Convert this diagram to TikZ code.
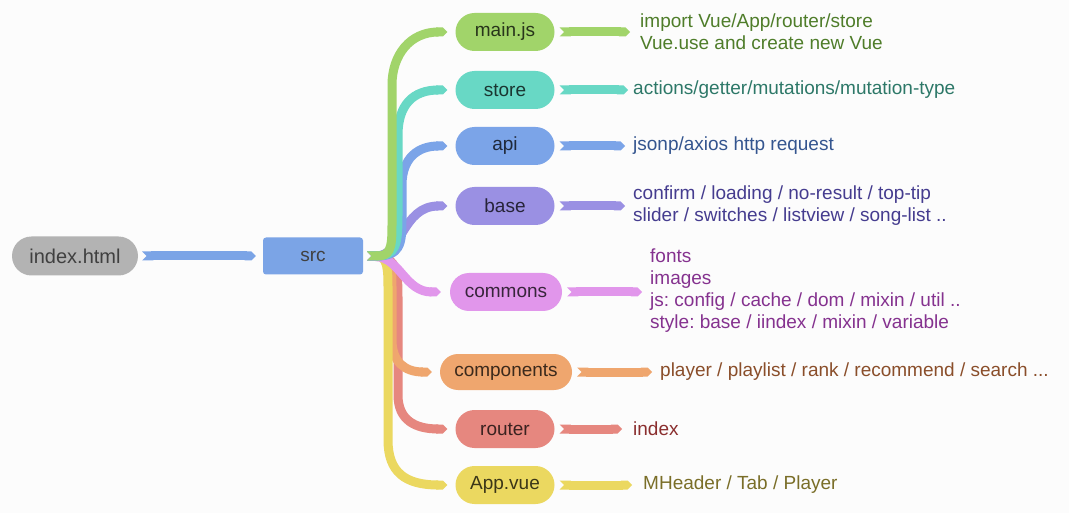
\documentclass[tikz,border=0pt]{standalone}
\usepackage{fontspec}
\setmainfont{Liberation Sans}
\frenchspacing
\usetikzlibrary{positioning, shapes.misc, arrows.meta, calc}
\definecolor{mmbg}{HTML}{FCFCFC}
\definecolor{mmgray}{HTML}{B3B3B3}
\definecolor{mmsrc}{HTML}{7BA4E6}
\definecolor{mmmain}{HTML}{A1D46A}
\definecolor{mmstore}{HTML}{68D8C5}
\definecolor{mmapi}{HTML}{7BA4E8}
\definecolor{mmbase}{HTML}{9A90E3}
\definecolor{mmcommons}{HTML}{E196EB}
\definecolor{mmcomp}{HTML}{EFA66E}
\definecolor{mmrouter}{HTML}{E6877F}
\definecolor{mmapp}{HTML}{EBD860}
\definecolor{txmain}{HTML}{4F7D2A}
\definecolor{txstore}{HTML}{2D7868}
\definecolor{txapi}{HTML}{34558F}
\definecolor{txbase}{HTML}{453C8F}
\definecolor{txcommons}{HTML}{85328F}
\definecolor{txcomp}{HTML}{8A4E2A}
\definecolor{txrouter}{HTML}{8A2E2E}
\definecolor{txapp}{HTML}{7A6E28}

\tikzset{
  pill/.style={rounded rectangle, minimum width=99pt, minimum height=38pt, inner sep=0pt,
               font=\fontsize{19}{22}\selectfont},
  note/.style={anchor=west, inner sep=0pt, align=left, font=\fontsize{19}{22}\selectfont},
  flow/.style={line width=9pt, {Triangle Cap[reversed]}-{Triangle Cap}},
}

\begin{document}
\begin{tikzpicture}[x=1pt, y=-1pt]
  \useasboundingbox[fill=mmbg] (0,0) rectangle (1069,513);

  % root and source
  \node[pill, fill=mmgray, minimum width=126pt, minimum height=39pt, text=black!75,
        font=\fontsize{20}{22}\selectfont] (index) at (75,256) {index.html};
  \node[rectangle, rounded corners=3pt, fill=mmsrc, minimum width=100pt, minimum height=37pt,
        text=black!75, font=\fontsize{19}{22}\selectfont] (src) at (313,256) {src};
  \coordinate (fan) at ([xshift=4pt]src.east);

  % folders
  \node[pill, fill=mmmain, text=mmmain!25!black] (main) at (505,32) {main.js};
  \node[pill, fill=mmstore, text=mmstore!25!black] (store) at (505,90) {store};
  \node[pill, fill=mmapi, text=mmapi!25!black] (api) at (505,146) {api};
  \node[pill, fill=mmbase, text=mmbase!25!black] (base) at (505,206) {base};
  \node[pill, fill=mmcommons, minimum width=112pt, text=mmcommons!25!black] (commons) at (506,292) {commons};
  \node[pill, fill=mmcomp, minimum width=132pt, minimum height=36pt, text=mmcomp!25!black] (comp) at (506,372) {components};
  \node[pill, fill=mmrouter, text=mmrouter!25!black] (router) at (505,429) {router};
  \node[pill, fill=mmapp, text=mmapp!25!black] (app) at (505,485) {App.vue};

  % notes
  \node[note, text=txmain] (maintxt) at (640,32) {import Vue/App/router/store\\Vue.use and create new Vue};
  \node[note, text=txstore] (storetxt) at (633,90) {actions/getter/mutations/mutation-type};
  \node[note, text=txapi] (apitxt) at (633,146) {jsonp/axios http request};
  \node[note, text=txbase] (basetxt) at (633,206) {confirm / loading / no-result / top-tip\\slider / switches / listview / song-list ..};
  \node[note, text=txcommons] (commonstxt) at (650,291) {fonts\\images\\js: config / cache / dom / mixin / util ..\\style: base / iindex / mixin / variable};
  \node[note, text=txcomp] (comptxt) at (660,372) {player / playlist / rank / recommend / search ...};
  \node[note, text=txrouter] (routertxt) at (633,429) {index};
  \node[note, text=txapp] (apptxt) at (643,485) {MHeader / Tab / Player};

  \draw[flow, mmsrc, shorten <=4pt, shorten >=7pt] (index.east) -- (src.west);

  % branches out of src
  \draw[flow, mmrouter, shorten >=8pt] (fan) .. controls (398,256) and (398,275) .. (398,300)
       -- (398,395) .. controls (398,420) and (415,429) .. (router.west);
  \draw[flow, mmcomp, shorten >=8pt] (fan) .. controls (392,256) and (392,270) .. (392,290)
       -- (392,340) .. controls (392,362) and (405,372) .. (comp.west);
  \draw[flow, mmapp, shorten >=8pt] (fan) .. controls (388,256) and (388,270) .. (388,290)
       -- (388,440) .. controls (388,472) and (405,485) .. (app.west);
  \draw[flow, mmcommons, shorten >=9pt] (fan) .. controls (400,258) and (405,292) .. (commons.west);
  \draw[flow, mmbase, shorten >=8pt] (fan) .. controls (402,256) and (402,206) .. (base.west);
  \draw[flow, mmapi, shorten >=8pt] (fan) .. controls (400,256) and (402,245) .. (402,220)
       -- (402,185) .. controls (402,158) and (418,146) .. (api.west);
  \draw[flow, mmstore, shorten >=8pt] (fan) .. controls (396,256) and (398,245) .. (398,215)
       -- (398,135) .. controls (398,105) and (413,90) .. (store.west);
  \draw[flow, mmmain, shorten >=8pt] (fan) .. controls (390,256) and (392,250) .. (392,225)
       -- (392,85) .. controls (392,55) and (410,32) .. (main.west);

  % leaves
  \draw[flow, mmmain, shorten <=5pt, shorten >=10pt] (main.east) -- (maintxt.west);
  \draw[flow, mmstore, shorten <=5pt, shorten >=5pt] (store.east) -- (storetxt.west);
  \draw[flow, mmapi, shorten <=5pt, shorten >=8pt] (api.east) -- (apitxt.west);
  \draw[flow, mmbase, shorten <=5pt, shorten >=8pt] (base.east) -- (basetxt.west);
  \draw[flow, mmcommons, shorten <=5pt, shorten >=8pt] (commons.east) -- (commons.east -| commonstxt.west);
  \draw[flow, mmcomp, shorten <=5pt, shorten >=8pt] (comp.east) -- (comptxt.west);
  \draw[flow, mmrouter, shorten <=5pt, shorten >=11pt] (router.east) -- (routertxt.west);
  \draw[flow, mmapp, shorten <=5pt, shorten >=11pt] (app.east) -- (apptxt.west);
\end{tikzpicture}
\end{document}
